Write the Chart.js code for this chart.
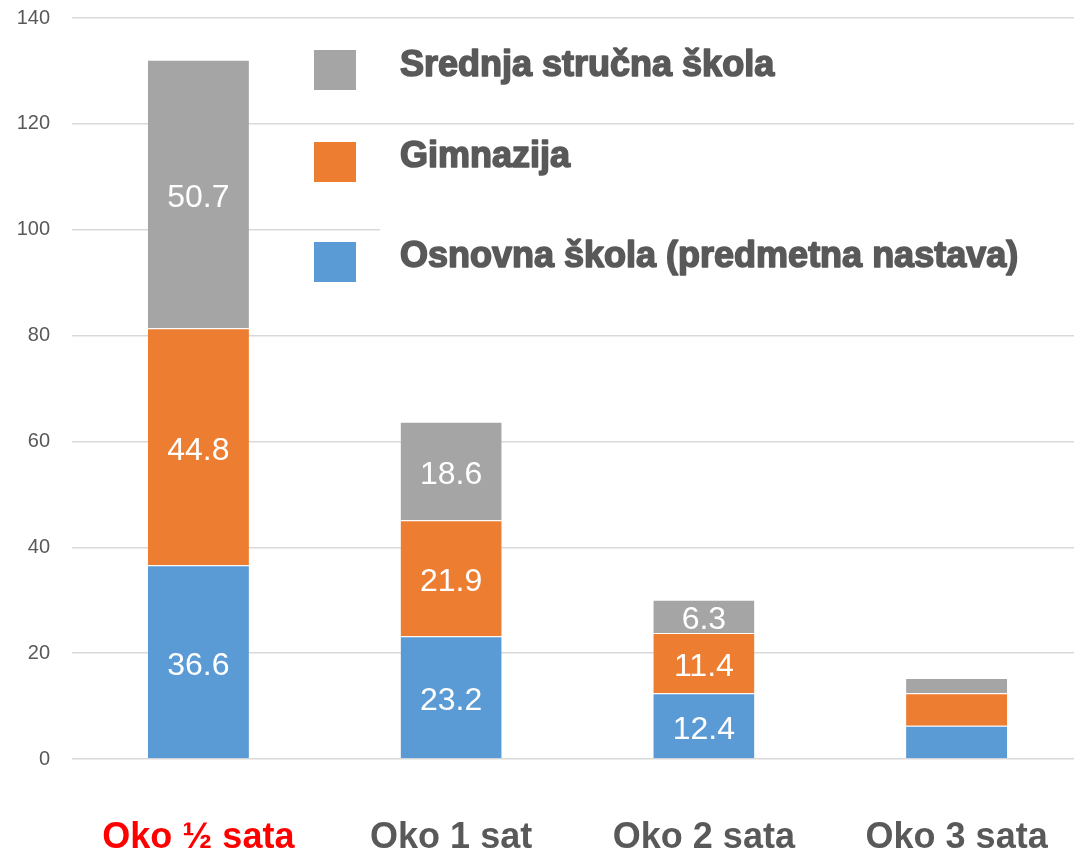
<!DOCTYPE html>
<html>
<head>
<meta charset="utf-8">
<script src="https://cdn.jsdelivr.net/npm/chart.js@4.4.1/dist/chart.umd.min.js"></script>
<style>
  html, body { margin: 0; padding: 0; background: #fff; overflow: hidden; }
  canvas { display: block; }
</style>
</head>
<body>
<canvas id="c" width="1100" height="852" style="width:1100px;height:852px"></canvas>
<script>
// ---- data ----
const categories = ['Oko ½ sata', 'Oko 1 sat', 'Oko 2 sata', 'Oko 3 sata'];
const osnovnaSkola = [36.6, 23.2, 12.4, 6.3];
const gimnazija = [44.8, 21.9, 11.4, 6.1];
const srednjaStrucna = [50.7, 18.6, 6.3, 2.9];
const seriesNames = ['Osnovna škola (predmetna nastava)', 'Gimnazija', 'Srednja stručna škola'];
const yTicks = [0, 20, 40, 60, 80, 100, 120, 140];
const unlabeledCategories = ['Oko 3 sata'];

const colors = ['#5b9bd5', '#ed7d31', '#a5a5a5'];
const textGray = '#595959';

const labelPlugin = {
  id: 'segLabels',
  beforeDatasetsDraw(chart) {
    // white legend box that hides gridlines behind it
    const ctx = chart.ctx;
    ctx.save();
    ctx.fillStyle = '#ffffff';
    ctx.fillRect(380, 135, 720, 165);
    ctx.restore();
  },
  afterDatasetsDraw(chart) {
    const ctx = chart.ctx;
    ctx.save();
    ctx.font = '32px "Liberation Sans", Arial, sans-serif';
    ctx.fillStyle = '#ffffff';
    ctx.textAlign = 'center';
    ctx.textBaseline = 'middle';
    chart.data.datasets.forEach((ds, di) => {
      const meta = chart.getDatasetMeta(di);
      meta.data.forEach((el, i) => {
        if (unlabeledCategories.includes(categories[i])) return;
        const v = ds.data[i];
        const cy = (el.y + el.base) / 2 + 4;
        ctx.fillText(v.toFixed(1), el.x, cy);
      });
    });
    ctx.restore();

    // legend (top series first)
    ctx.save();
    const order = [2, 1, 0];
    const boxTops = [50, 142, 242];
    const baselines = [76, 167, 267];
    ctx.font = 'bold 36px "Liberation Sans", Arial, sans-serif';
    ctx.textAlign = 'left';
    ctx.textBaseline = 'alphabetic';
    order.forEach((di, k) => {
      ctx.fillStyle = colors[di];
      ctx.fillRect(314, boxTops[k], 42, 40);
      ctx.fillStyle = textGray;
      ctx.strokeStyle = textGray;
      ctx.lineWidth = 1.6;
      ctx.lineJoin = 'round';
      ctx.fillText(chart.data.datasets[di].label, 400, baselines[k]);
      ctx.strokeText(chart.data.datasets[di].label, 400, baselines[k]);
    });
    ctx.restore();
  }
};

new Chart(document.getElementById('c'), {
  type: 'bar',
  data: {
    labels: categories,
    datasets: [
      { label: seriesNames[0], data: osnovnaSkola, backgroundColor: colors[0] },
      { label: seriesNames[1], data: gimnazija, backgroundColor: colors[1] },
      { label: seriesNames[2], data: srednjaStrucna, backgroundColor: colors[2] }
    ]
  },
  options: {
    responsive: false,
    animation: false,
    layout: { padding: { top: 18, right: 17, left: 0, bottom: 0 } },
    plugins: { legend: { display: false }, tooltip: { enabled: false } },
    datasets: {
      bar: {
        categoryPercentage: 0.8,
        barPercentage: 0.5,
        borderWidth: { top: 1 },
        borderColor: 'rgba(255,255,255,0.35)',
        borderSkipped: 'bottom'
      }
    },
    scales: {
      x: {
        stacked: true,
        grid: { display: false },
        border: { display: false },
        ticks: {
          padding: 49,
          font: { family: '"Liberation Sans", Arial, sans-serif', size: 36, weight: 'bold' },
          color: (c) => (c.index === 0 ? '#ff0000' : textGray)
        },
        afterFit: (s) => { s.height = 93; s.paddingTop = 0; s.paddingBottom = 0; }
      },
      y: {
        stacked: true,
        min: 0,
        max: 140,
        afterBuildTicks: (s) => { s.ticks = yTicks.map(v => ({ value: v })); },
        grid: { color: '#d9d9d9', lineWidth: 1.5, drawTicks: false },
        border: { display: false },
        ticks: {
          padding: 22,
          font: { family: '"Liberation Sans", Arial, sans-serif', size: 20 },
          color: textGray
        },
        afterFit: (s) => { s.width = 72; s.paddingTop = 0; s.paddingBottom = 0; }
      }
    }
  },
  plugins: [labelPlugin]
});
</script>
</body>
</html>
